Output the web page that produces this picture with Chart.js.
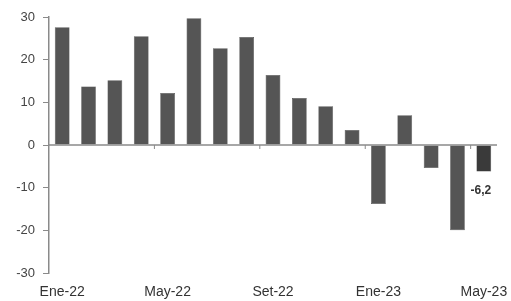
<!DOCTYPE html>
<html>
<head>
<meta charset="utf-8">
<script src="https://cdn.jsdelivr.net/npm/chart.js@4"></script>
<style>
html,body{margin:0;padding:0;background:#fff;}
#wrap{width:511px;height:301px;}
</style>
</head>
<body>
<div id="wrap"><canvas id="c"></canvas></div>
<script>
const categories = ["Ene-22","Feb-22","Mar-22","Abr-22","May-22","Jun-22","Jul-22","Ago-22","Set-22","Oct-22","Nov-22","Dic-22","Ene-23","Feb-23","Mar-23","Abr-23","May-23"];
const values = [27.6, 13.7, 15.2, 25.5, 12.2, 29.7, 22.7, 25.3, 16.4, 11.0, 9.1, 3.5, -13.8, 7.0, -5.4, -20.0, -6.2];
const yTicks = [-30, -20, -10, 0, 10, 20, 30];
const lastLabel = "-6,2";

const barColors = values.map((v, i) => i === values.length - 1 ? "#3a3a3a" : "#555555");

const zeroLine = {
  id: "zeroLine",
  afterDatasetsDraw(chart) {
    const {ctx, chartArea, scales} = chart;
    const y = scales.y.getPixelForValue(0);
    ctx.save();
    ctx.strokeStyle = "#8a8a8a";
    ctx.lineWidth = 1.5;
    ctx.beginPath();
    ctx.moveTo(chartArea.left, y);
    ctx.lineTo(chartArea.right, y);
    ctx.stroke();
    ctx.lineWidth = 1;
    for (let i = 4; i < categories.length; i += 4) {
      const x = (scales.x.getPixelForValue(i - 1) + scales.x.getPixelForValue(i)) / 2;
      ctx.beginPath();
      ctx.moveTo(x, y);
      ctx.lineTo(x, y + 4);
      ctx.stroke();
    }
    const idx = values.length - 1;
    const meta = chart.getDatasetMeta(0).data[idx];
    ctx.fillStyle = "#333";
    ctx.font = "bold 12px 'Liberation Sans', Arial, sans-serif";
    ctx.textAlign = "center";
    ctx.textBaseline = "middle";
    ctx.fillText(lastLabel, meta.x - 3, scales.y.getPixelForValue(values[idx]) + 19);
    ctx.restore();
  }
};

new Chart(document.getElementById("c"), {
  type: "bar",
  data: {
    labels: categories,
    datasets: [{
      data: values,
      backgroundColor: barColors,
      borderColor: "#3a3a3a",
      borderWidth: 0.5,
      barPercentage: 0.56,
      categoryPercentage: 1.0
    }]
  },
  options: {
    responsive: true,
    maintainAspectRatio: false,
    animation: false,
    layout: {padding: {top: 17, right: 14, bottom: 2, left: 0}},
    plugins: {legend: {display: false}, tooltip: {enabled: false}},
    scales: {
      x: {
        border: {display: false},
        grid: {display: false, drawTicks: false},
        afterFit: function(scale) { scale.height = 26; scale.paddingLeft = 0; scale.paddingRight = 0; },
        ticks: {
          autoSkip: false,
          maxRotation: 0,
          minRotation: 0,
          padding: 11,
          color: "#333",
          font: {family: "'Liberation Sans', Arial, sans-serif", size: 14},
          callback: function(v, i) { return i % 4 === 0 ? categories[i] : ""; }
        }
      },
      y: {
        min: -30,
        max: 30,
        afterBuildTicks: function(scale) { scale.ticks = yTicks.map(v => ({value: v})); },
        afterFit: function(scale) { scale.width = 49; scale.paddingTop = 0; scale.paddingBottom = 0; },
        border: {display: true, color: "#8a8a8a", width: 1.5},
        grid: {drawOnChartArea: false, drawTicks: true, tickLength: 6, color: "#8a8a8a"},
        ticks: {
          padding: 8,
          color: "#444",
          font: {family: "'Liberation Sans', Arial, sans-serif", size: 13}
        }
      }
    }
  },
  plugins: [zeroLine]
});
</script>
</body>
</html>
